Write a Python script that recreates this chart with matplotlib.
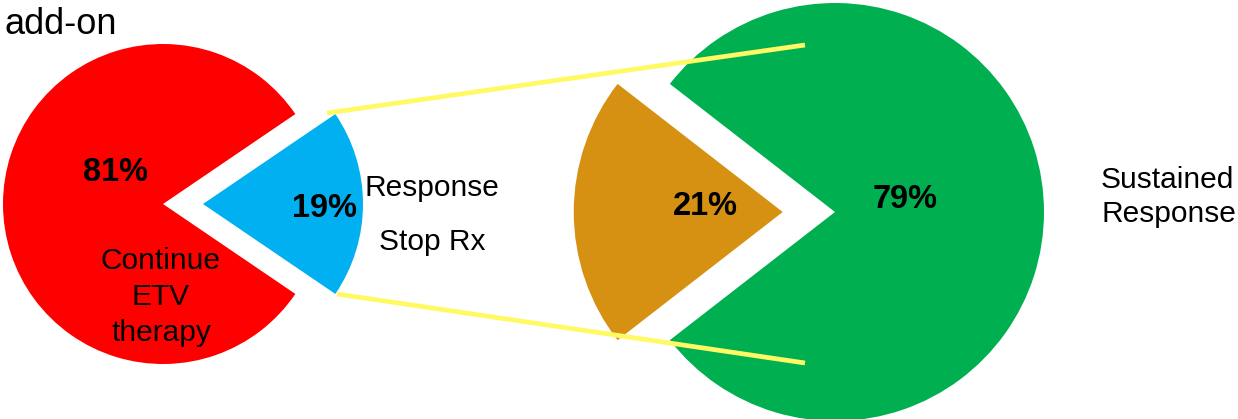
import numpy as np
import matplotlib
matplotlib.use("Agg")
import matplotlib.pyplot as plt

plt.rcParams['font.family'] = ['Liberation Sans', 'DejaVu Sans']

# first stage: add-on therapy outcome
left_labels = ["Response", "Continue ETV therapy"]
left_values = [19, 81]
left_colors = ["#00B0F0", "#FF0000"]

# second stage: after stopping treatment
right_labels = ["Relapse", "Sustained Response"]
right_values = [21, 79]
right_colors = ["#D69113", "#00B050"]

W, H = 1238, 419
fig = plt.figure(figsize=(W / 100, H / 100), dpi=100)
ax = fig.add_axes([0, 0, 1, 1])


def exploded_pie(ax, values, colors, center, radius, mid_angle):
    # the first slice is pulled out and centred on mid_angle;
    # explode is in data units, so scale it by the radius
    start = mid_angle - values[0] / sum(values) * 360 / 2
    wedges, _ = ax.pie(values, colors=colors, explode=[0.25 * radius, 0],
                       startangle=start, center=center, radius=radius,
                       wedgeprops=dict(linewidth=0))
    return wedges


exploded_pie(ax, left_values, left_colors, (163, 204), 160, 0)
exploded_pie(ax, right_values, right_colors, (835, 212), 209, 180)

ax.set_aspect('auto')
ax.set_xlim(0, W)
ax.set_ylim(H, 0)
ax.axis('off')

# connector lines between the two stages
ax.plot([327, 805], [113, 45], color="#FFFA64", lw=3.4, zorder=5,
        solid_capstyle='butt')
ax.plot([337, 805], [294, 363], color="#FFFA64", lw=3.4, zorder=5,
        solid_capstyle='butt')

fs = 21.5
pct = dict(fontsize=23.5, fontweight='bold', ha='center', va='center', zorder=6)
ax.text(116, 172, f"{left_values[1]}%", **pct)
ax.text(324, 208, f"{left_values[0]}%", **pct)
ax.text(705, 206, f"{right_values[0]}%", **pct)
ax.text(905, 199, f"{right_values[1]}%", **pct)

ax.text(4, 24, "add-on", fontsize=26, ha='left', va='center')
ax.text(161, 297, "Continue\nETV\ntherapy", fontsize=fs, ha='center',
        va='center', linespacing=1.35, zorder=6)
ax.text(432, 188, "Response", fontsize=fs, ha='center', va='center')
ax.text(432, 242, "Stop Rx", fontsize=fs, ha='center', va='center')
ax.text(1101, 197, "Sustained\nResponse", fontsize=fs, ha='left',
        va='center', linespacing=1.25)

fig.savefig("out.png", dpi=100)
